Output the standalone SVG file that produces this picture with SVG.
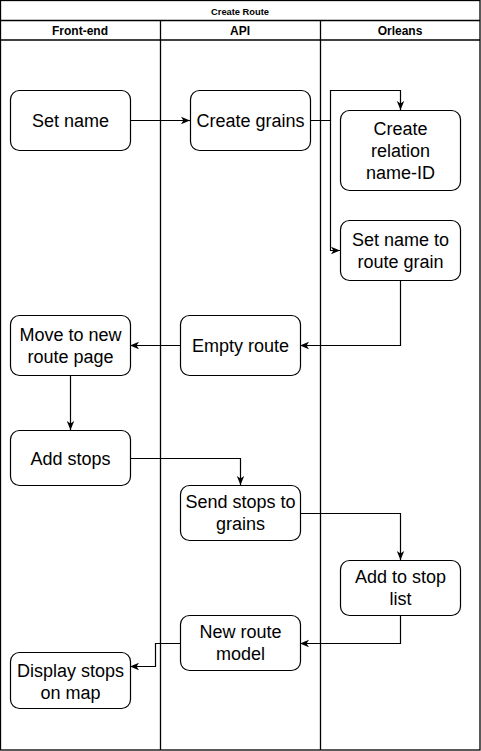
<svg xmlns="http://www.w3.org/2000/svg" width="481" height="751" viewBox="0 0 481 751">
<style>
.lane{fill:none;stroke:#000;stroke-width:1.3}
.box{fill:#fff;stroke:#000;stroke-width:1.2}
.t{font-family:"Liberation Sans",Arial,sans-serif;font-size:18px;fill:#000;text-anchor:middle}
.h{font-family:"Liberation Sans",Arial,sans-serif;font-size:12px;font-weight:bold;fill:#000;text-anchor:middle}
.title{font-family:"Liberation Sans",Arial,sans-serif;font-size:9.3px;font-weight:bold;fill:#000;text-anchor:middle}
.c{fill:none;stroke:#000;stroke-width:1.2}
</style>
<defs>
<marker id="arr" markerUnits="userSpaceOnUse" markerWidth="9" markerHeight="9" viewBox="0 0 9 9" refX="9" refY="4.5" orient="auto">
<path d="M0,0.8 L9,4.5 L0,8.2 L2.4,4.5 Z" fill="#000"/>
</marker>
</defs>
<rect x="0" y="0" width="481" height="751" fill="#fff"/>
<g id="pool">
<rect class="lane" x="0.5" y="0.5" width="479.5" height="749.5"/>
<line class="lane" x1="0.5" y1="20.5" x2="480" y2="20.5"/>
<line class="lane" x1="0.5" y1="40" x2="480" y2="40"/>
<line class="lane" x1="160.5" y1="20.5" x2="160.5" y2="750"/>
<line class="lane" x1="320.5" y1="20.5" x2="320.5" y2="750"/>
<text class="title" x="240" y="15">Create Route</text>
<text class="h" x="80" y="35">Front-end</text>
<text class="h" x="240" y="35">API</text>
<text class="h" x="400" y="35">Orleans</text>
</g>
<g id="connectors">
<path class="c" d="M130,120.5 H190" marker-end="url(#arr)"/>
<path class="c" d="M310,120.5 H330.5 V90.5 H400.5 V110" marker-end="url(#arr)"/>
<path class="c" d="M330.5,120.5 V250.5 H340" marker-end="url(#arr)"/>
<path class="c" d="M400.5,280 V345.5 H300" marker-end="url(#arr)"/>
<path class="c" d="M180,345.5 H130" marker-end="url(#arr)"/>
<path class="c" d="M70.5,375 V430" marker-end="url(#arr)"/>
<path class="c" d="M130,458.5 H240.5 V485" marker-end="url(#arr)"/>
<path class="c" d="M300,513.5 H400.5 V560" marker-end="url(#arr)"/>
<path class="c" d="M400.5,615 V643.5 H300" marker-end="url(#arr)"/>
<path class="c" d="M180,643.5 H155.5 V666.5 H130" marker-end="url(#arr)"/>
</g>
<g id="set-name"><rect class="box" x="10.5" y="90.5" width="120" height="60" rx="9"/><text class="t" x="70.5" y="127">Set name</text></g>
<g id="create-grains"><rect class="box" x="190.5" y="90.5" width="120" height="60" rx="9"/><text class="t" x="250.5" y="127">Create grains</text></g>
<g id="create-relation"><rect class="box" x="340.5" y="110.5" width="120" height="80" rx="9"/><text class="t" x="400.5" y="135">Create</text><text class="t" x="400.5" y="157">relation</text><text class="t" x="400.5" y="179">name-ID</text></g>
<g id="set-name-route-grain"><rect class="box" x="340.5" y="220.5" width="120" height="60" rx="9"/><text class="t" x="400.5" y="246">Set name to</text><text class="t" x="400.5" y="268">route grain</text></g>
<g id="move-page"><rect class="box" x="10.5" y="315.5" width="120" height="60" rx="9"/><text class="t" x="70.5" y="341">Move to new</text><text class="t" x="70.5" y="363">route page</text></g>
<g id="empty-route"><rect class="box" x="180.5" y="315.5" width="120" height="60" rx="9"/><text class="t" x="240.5" y="352">Empty route</text></g>
<g id="add-stops"><rect class="box" x="10.5" y="430.5" width="120" height="55" rx="9"/><text class="t" x="70.5" y="465">Add stops</text></g>
<g id="send-stops"><rect class="box" x="180.5" y="485.5" width="120" height="55" rx="9"/><text class="t" x="240.5" y="508">Send stops to</text><text class="t" x="240.5" y="530">grains</text></g>
<g id="add-stop-list"><rect class="box" x="340.5" y="560.5" width="120" height="55" rx="9"/><text class="t" x="400.5" y="583">Add to stop</text><text class="t" x="400.5" y="605">list</text></g>
<g id="new-route-model"><rect class="box" x="180.5" y="615.5" width="120" height="55" rx="9"/><text class="t" x="240.5" y="638">New route</text><text class="t" x="240.5" y="660">model</text></g>
<g id="display-stops"><rect class="box" x="10.5" y="652.5" width="120" height="56" rx="9"/><text class="t" x="70.5" y="677">Display stops</text><text class="t" x="70.5" y="699">on map</text></g>
</svg>
